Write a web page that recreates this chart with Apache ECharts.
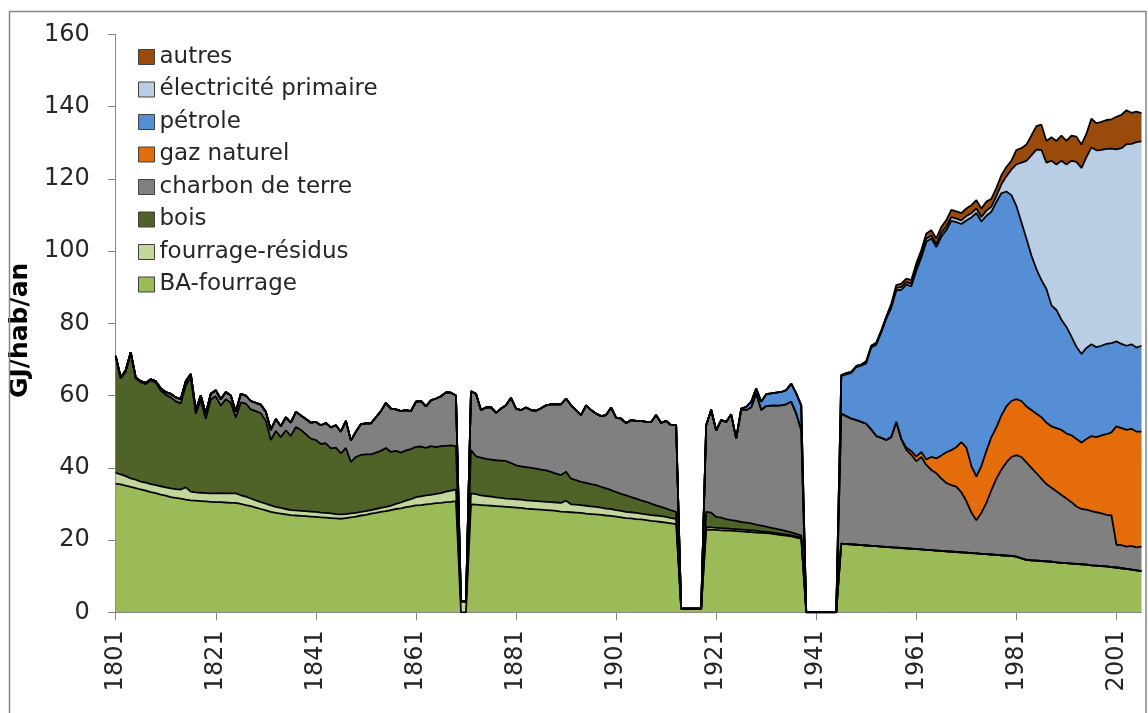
<!DOCTYPE html>
<html>
<head>
<meta charset="utf-8">
<script src="https://cdn.jsdelivr.net/npm/echarts@6/dist/echarts.min.js"></script>
<style>
html,body{margin:0;padding:0;background:#fff;}
#chart{width:1148px;height:713px;}
</style>
</head>
<body>
<div id="chart"></div>
<script>
// Years 1801..2006
var years = [];
for (var y = 1801; y <= 2006; y++) years.push(String(y));

var baFourrage = [
35.6,35.4,35.1,34.7,34.4,34.0,33.7,33.3,33.0,32.6,
32.3,31.9,31.7,31.5,31.2,31.0,30.9,30.8,30.7,30.6,
30.5,30.5,30.4,30.3,30.3,30.0,29.7,29.4,29.0,28.6,
28.2,27.8,27.5,27.3,27.1,26.9,26.8,26.7,26.6,26.5,
26.4,26.3,26.2,26.1,26.0,25.9,26.1,26.3,26.5,26.8,
27.0,27.3,27.5,27.8,28.0,28.3,28.6,28.8,29.1,29.3,
29.6,29.7,29.9,30.0,30.2,30.3,30.5,30.6,30.8,0,
0,29.9,29.8,29.7,29.6,29.5,29.4,29.3,29.2,29.1,
29.0,28.9,28.7,28.6,28.5,28.4,28.3,28.2,28.1,27.9,
27.8,27.7,27.6,27.5,27.3,27.2,27.1,27.0,26.8,26.7,
26.5,26.3,26.1,26.0,25.8,25.7,25.5,25.3,25.2,25.0,
24.8,24.6,24.4,1.0,1.0,1.0,1.0,1.0,22.9,22.8,
22.8,22.7,22.6,22.6,22.5,22.4,22.3,22.2,22.1,22.0,
21.9,21.8,21.6,21.4,21.2,21.0,20.7,20.4,0,0,
0,0,0,0,0,19.0,18.9,18.8,18.7,18.6,
18.5,18.4,18.3,18.2,18.1,18.0,17.9,17.8,17.7,17.6,
17.5,17.4,17.3,17.2,17.1,17.0,16.9,16.8,16.7,16.6,
16.5,16.4,16.3,16.2,16.1,16.0,15.9,15.8,15.7,15.6,
15.4,14.9,14.5,14.4,14.3,14.2,14.1,14.0,13.8,13.7,
13.6,13.5,13.4,13.3,13.2,13.0,12.9,12.8,12.7,12.5,
12.4,12.2,12.0,11.8,11.6,11.4
];

var fourrageResidus = [
3.0,2.8,2.6,2.4,2.3,2.2,2.2,2.2,2.2,2.3,
2.3,2.4,2.4,2.5,3.4,2.4,2.3,2.3,2.3,2.3,
2.4,2.5,2.5,2.6,2.6,2.4,2.3,2.1,2.0,1.9,
1.9,1.8,1.7,1.6,1.5,1.4,1.4,1.4,1.4,1.4,
1.4,1.3,1.3,1.3,1.2,1.2,1.1,1.1,1.0,1.0,
1.0,1.0,1.1,1.1,1.2,1.2,1.4,1.6,1.8,2.0,
2.3,2.4,2.5,2.5,2.6,2.7,2.9,3.1,3.2,3.0,
3.0,3.0,2.9,2.7,2.6,2.5,2.4,2.4,2.3,2.3,
2.3,2.3,2.3,2.3,2.3,2.3,2.3,2.3,2.3,2.4,
3.1,2.2,2.2,2.2,2.2,2.1,2.1,2.0,1.9,1.9,
1.8,1.8,1.7,1.7,1.7,1.6,1.6,1.6,1.6,1.6,
1.6,1.5,1.5,0,0,0,0,0,0.7,0.7,
0.6,0.6,0.6,0.5,0.5,0.5,0.5,0.5,0.5,0.4,
0.4,0.3,0.3,0.3,0.3,0.3,0.3,0.3,0,0,
0,0,0,0,0,0,0,0,0,0,
0,0,0,0,0,0,0,0,0,0,
0,0,0,0,0,0,0,0,0,0,
0,0,0,0,0,0,0,0,0,0,
0,0,0,0,0,0,0,0,0,0,
0,0,0,0,0,0,0,0,0,0,
0,0,0,0,0,0
];

var bois = [
32.1,26.5,29.0,34.6,28.0,27.5,27.3,28.7,28.4,26.5,
25.6,25.2,24.3,23.8,28.2,31.6,21.8,25.6,20.5,26.0,
26.9,24.2,26.1,25.1,21.0,25.7,25.8,24.7,24.7,24.6,
22.9,18.1,21.0,19.6,21.8,20.5,23.1,22.4,21.3,20.2,
19.9,19.0,19.3,18.0,18.4,16.9,18.3,14.2,15.5,15.8,
15.7,15.4,15.6,15.8,16.3,14.9,14.7,13.8,13.9,13.9,
13.9,13.8,13.1,13.5,12.9,13.0,12.7,12.5,12.0,0,
0,12.0,10.5,10.4,10.3,10.3,10.3,10.3,10.4,9.9,
9.4,9.2,9.2,9.1,9.0,8.8,8.7,8.4,8.0,7.7,
8.0,7.1,6.8,6.4,6.3,6.2,6.0,5.7,5.6,5.2,
5.0,4.7,4.6,4.2,4.0,3.7,3.5,3.2,2.8,2.6,
2.3,2.1,1.9,0,0,0,0,0,4.2,4.1,
3.0,2.9,2.6,2.4,2.3,2.1,2.0,1.9,1.7,1.6,
1.4,1.3,1.2,1.1,1.0,0.8,0.7,0.6,0,0,
0,0,0,0,0,0,0,0,0,0,
0,0,0,0,0,0,0,0,0,0,
0,0,0,0,0,0,0,0,0,0,
0,0,0,0,0,0,0,0,0,0,
0,0,0,0,0,0,0,0,0,0,
0,0,0,0,0,0,0,0,0,0,
0,0,0,0,0,0
];

var charbon = [
0.3,0.3,0.3,0.3,0.3,0.3,0.3,0.3,0.4,0.6,
0.8,1.0,1.1,1.2,1.2,1.0,1.0,1.3,1.5,1.6,
1.7,1.8,2.0,2.0,1.6,2.4,2.2,2.3,2.3,2.4,
2.5,2.8,3.3,3.0,3.6,3.7,4.2,4.0,4.2,4.4,
5.0,5.2,5.6,5.8,6.2,6.0,7.5,6.0,7.0,8.5,
8.6,8.6,9.8,11.0,12.5,12.0,11.5,11.5,11.2,10.5,
12.5,12.6,11.5,12.7,13.5,13.8,14.8,14.6,14.0,0,
0,16.3,17.3,13.2,14.2,14.5,13.1,14.4,15.4,18.1,
15.7,15.6,16.5,16.0,16.0,17.0,18.0,18.7,19.2,19.6,
20.3,20.3,19.4,18.5,21.5,20.5,19.8,19.6,20.3,22.9,
20.6,20.8,20.0,21.3,21.5,22.0,22.1,22.6,25.0,23.2,
24.3,23.6,24.0,0,0,0,0,0,24.0,28.5,
24.0,27.0,26.9,29.3,22.8,31.0,31.2,32.1,36.3,32.0,
33.4,33.8,34.1,34.5,35.1,36.2,33.3,29.1,0,0,
0,0,0,0,0,36.0,35.4,34.8,34.5,34.1,
33.7,32.2,30.5,30.1,29.6,30.5,34.8,30.0,27.3,26.0,
24.3,25.6,23.5,22.2,21.4,20.0,18.9,18.4,18.1,16.6,
14.3,11.2,9.2,11.3,14.2,17.8,21.1,23.7,25.8,27.4,
28.1,28.1,27.0,25.6,24.2,22.8,21.4,20.5,19.7,18.8,
17.9,17.0,15.9,15.3,15.2,15.0,14.8,14.6,14.3,14.3,
6.3,6.4,6.2,6.6,6.4,6.8
];

var gazNaturel = [
0,0,0,0,0,0,0,0,0,0, 0,0,0,0,0,0,0,0,0,0,
0,0,0,0,0,0,0,0,0,0, 0,0,0,0,0,0,0,0,0,0,
0,0,0,0,0,0,0,0,0,0, 0,0,0,0,0,0,0,0,0,0,
0,0,0,0,0,0,0,0,0,0, 0,0,0,0,0,0,0,0,0,0,
0,0,0,0,0,0,0,0,0,0, 0,0,0,0,0,0,0,0,0,0,
0,0,0,0,0,0,0,0,0,0, 0,0,0,0,0,0,0,0,0,0,
0,0,0,0,0,0,0,0,0,0, 0,0,0,0,0,0,0,0,0,0,
0,0,0,0,0,0,0,0,0,0,
0,0,0,0,0,0,0,0.3,0.6,1.0,
1.3,1.4,1.5,3.6,4.1,6.4,8.5,9.7,10.9,13.9,
14.8,12.9,12.1,13.0,14.4,14.7,14.2,15.0,15.5,15.5,
15.5,15.5,15.5,16.0,16.5,17.0,17.0,17.0,17.5,18.0,
18.0,18.5,18.7,18.4,19.6,20.8,20.8,21.6,22.3,23.0,
32.8,32.4,32.3,32.4,32.0,31.8
];

var petrole = [
0,0,0,0,0,0,0,0,0,0, 0,0,0,0,0,0,0,0,0,0,
0,0,0,0,0,0,0,0,0,0, 0,0,0,0,0,0,0,0,0,0,
0,0,0,0,0,0,0,0,0,0, 0,0,0,0,0,0,0,0,0,0,
0,0,0,0,0,0,0,0,0,0, 0,0,0,0,0,0,0,0,0,0,
0,0,0,0,0,0,0,0,0,0, 0,0,0,0,0,0,0,0,0,0,
0,0,0,0,0,0,0,0,0,0, 0,0,0,0,0,0,0,0,0,0,
0,0,0,0,0,0.4,0.9,1.6,1.4,2.3,
3.3,3.4,3.6,3.7,3.9,5.0,5.6,6.9,0,0,
0,0,0,0,0,10.4,11.6,12.7,14.7,15.6,
16.8,22.7,25.3,29.2,33.6,35.8,36.4,41.2,45.1,45.7,
51.5,53.8,60.3,60.5,58.5,60.6,61.5,63.5,62.3,60.4,
62.9,68.8,73.0,67.7,65.1,62.4,62.4,61.5,59.5,57.0,
53.5,49.5,46.5,42.8,40.0,38.0,37.0,33.5,32.7,30.5,
29.5,27.3,25.5,24.5,25.2,25.4,24.9,24.8,25.0,24.7,
23.5,23.3,23.3,23.4,23.3,23.8
];

var electricite = [
0,0,0,0,0,0,0,0,0,0, 0,0,0,0,0,0,0,0,0,0,
0,0,0,0,0,0,0,0,0,0, 0,0,0,0,0,0,0,0,0,0,
0,0,0,0,0,0,0,0,0,0, 0,0,0,0,0,0,0,0,0,0,
0,0,0,0,0,0,0,0,0,0, 0,0,0,0,0,0,0,0,0,0,
0,0,0,0,0,0,0,0,0,0, 0,0,0,0,0,0,0,0,0,0,
0,0,0,0,0,0,0,0,0,0, 0,0,0,0,0,0,0,0,0,0,
0,0,0,0,0,0,0,0,0,0, 0,0,0,0,0,0,0,0,0,0,
0,0,0,0,0,0.3,0.3,0.3,0.3,0.3,
0.5,0.5,0.5,0.5,0.5,0.7,0.7,0.7,0.7,0.7,
0.8,0.8,0.8,0.8,0.8,1.0,1.0,1.0,1.0,1.0,
1.2,1.2,1.2,1.2,1.4,1.4,1.6,2.5,4.2,7.1,
11.5,16.5,21.5,27.7,33.1,36.0,35.0,40.0,40.3,44.0,
45.0,48.7,51.2,51.5,52.8,54.5,54.5,54.2,54.0,53.9,
53.2,54.2,55.8,55.5,56.9,56.6
];

var autres = [
0,0,0,0,0,0,0,0,0,0, 0,0,0,0,0,0,0,0,0,0,
0,0,0,0,0,0,0,0,0,0, 0,0,0,0,0,0,0,0,0,0,
0,0,0,0,0,0,0,0,0,0, 0,0,0,0,0,0,0,0,0,0,
0,0,0,0,0,0,0,0,0,0, 0,0,0,0,0,0,0,0,0,0,
0,0,0,0,0,0,0,0,0,0, 0,0,0,0,0,0,0,0,0,0,
0,0,0,0,0,0,0,0,0,0, 0,0,0,0,0,0,0,0,0,0,
0,0,0,0,0,0,0,0,0,0, 0,0,0,0,0,0,0,0,0,0,
0,0,0,0,0,0,0,0,0,0,
0,0,0,0,0,0.5,0.8,1.0,1.0,1.0,
1.2,1.3,1.5,1.5,1.6,1.7,1.8,2.0,2.0,2.0,
2.1,2.2,2.3,2.4,2.5,2.2,2.3,2.5,2.6,2.4,
4.0,4.0,4.5,5.5,6.5,7.0,6.0,6.5,6.5,7.0,
6.5,7.0,7.0,6.5,6.5,8.0,7.5,7.8,8.0,8.1,
9.0,9.2,9.4,8.6,8.4,7.8
];

var seriesNames = ['BA-fourrage','fourrage-résidus','bois','charbon de terre','gaz naturel','pétrole','électricité primaire','autres'];
var seriesData = [baFourrage, fourrageResidus, bois, charbon, gazNaturel, petrole, electricite, autres];
var seriesColors = ['#9BBB59','#C3D69B','#4F6228','#808080','#E46C0A','#558ED5','#B9CDE5','#9A4A0B'];
var yTicks = [0,20,40,60,80,100,120,140,160];

var FONT = 'DejaVu Sans';
var chart = echarts.init(document.getElementById('chart'), null, {renderer:'canvas'});

var series = [];
seriesNames.forEach(function(n, i){
  series.push({
    name: n,
    type: 'line',
    stack: 'total',
    data: seriesData[i],
    showSymbol: false,
    symbol: 'none',
    smooth: false,
    itemStyle: {color: seriesColors[i]},
    lineStyle: {width: 0, opacity: 0},
    areaStyle: {color: seriesColors[i], opacity: 1},
    emphasis: {disabled: true},
    silent: true,
    z: 2
  });
});
// black outlines of each stacked layer, drawn above all areas
seriesNames.forEach(function(n, i){
  series.push({
    name: '_outline_' + i,
    type: 'line',
    stack: 'outline',
    data: seriesData[i],
    showSymbol: false,
    symbol: 'none',
    smooth: false,
    lineStyle: {color: '#000', width: 1.8},
    emphasis: {disabled: true},
    silent: true,
    z: 5
  });
});

chart.setOption({
  animation: false,
  backgroundColor: '#ffffff',
  grid: {left: 114, right: 6.5, top: 34.4, bottom: 100.7, containLabel: false},
  legend: {
    data: seriesNames.slice().reverse(),
    orient: 'vertical',
    left: 138,
    top: 45,
    padding: 0,
    icon: 'rect',
    itemWidth: 16,
    itemHeight: 15,
    itemGap: 8.5,
    itemStyle: {borderColor: '#404040', borderWidth: 1},
    lineStyle: {width: 0},
    textStyle: {fontFamily: FONT, fontSize: 23, color: '#262626', lineHeight: 24},
    selectedMode: false
  },
  xAxis: {
    type: 'category',
    data: years,
    boundaryGap: false,
    axisLine: {show: true, lineStyle: {color: '#868686', width: 1}},
    axisTick: {show: true, interval: 19, length: 8, lineStyle: {color: '#868686'}},
    axisLabel: {interval: 19, rotate: 90, margin: 18, fontFamily: FONT, fontSize: 24, color: '#262626'},
    splitLine: {show: false}
  },
  yAxis: {
    type: 'value',
    min: 0, max: 160, interval: 20,
    name: 'GJ/hab/an',
    nameLocation: 'middle',
    nameGap: 66,
    nameRotate: 90,
    nameTextStyle: {fontFamily: FONT, fontSize: 25, fontWeight: 'bold', color: '#000', padding: [0, 14, 0, 0]},
    axisLine: {show: true, lineStyle: {color: '#868686', width: 1}},
    axisTick: {show: true, length: 8, lineStyle: {color: '#868686'}},
    axisLabel: {margin: 26, fontFamily: FONT, fontSize: 24, color: '#262626',
      formatter: function(v){ return yTicks.indexOf(v) >= 0 ? String(v) : ''; }},
    splitLine: {show: false}
  },
  graphic: [{
    type: 'rect',
    silent: true,
    shape: {x: 9.5, y: 11.5, width: 1136.5, height: 740},
    style: {fill: 'none', stroke: '#868686', lineWidth: 1.5},
    z: 100
  }],
  series: series
});
</script>
</body>
</html>
